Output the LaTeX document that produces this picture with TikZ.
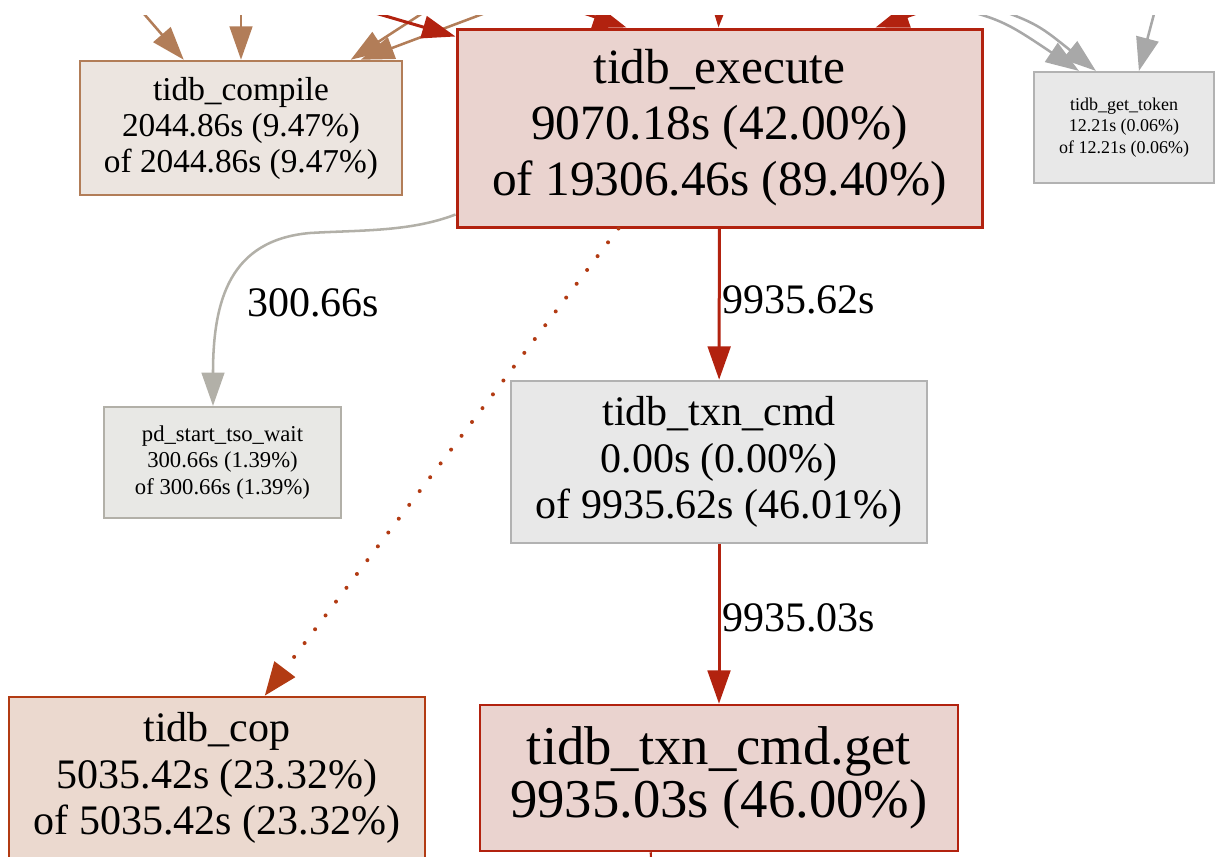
\documentclass[tikz,border=0pt]{standalone}
\usepackage{fontspec}
\setmainfont{Liberation Serif}
\usetikzlibrary{arrows.meta,calc}
\definecolor{redB}{HTML}{B2220F}
\definecolor{execF}{HTML}{EAD3CF}
\definecolor{copB}{HTML}{B23B13}
\definecolor{copF}{HTML}{EBD9CF}
\definecolor{brownB}{HTML}{B27D58}
\definecolor{compF}{HTML}{ECE5E0}
\definecolor{grayB}{HTML}{B2B2B2}
\definecolor{grayF}{HTML}{E8E8E8}
\definecolor{grayA}{HTML}{A8A8A8}
\definecolor{pdB}{HTML}{B2B0A8}
\definecolor{pdF}{HTML}{E8E8E5}
\begin{document}
\begin{tikzpicture}[x=0.75pt,y=-0.75pt,
  box/.style={draw, rectangle, align=center, inner sep=0pt},
  lbl/.style={inner sep=0pt, font=\fontsize{31.5}{35}\selectfont, anchor=west},
  tip/.style={-{Triangle[length=25pt,width=17pt]}},
]
\useasboundingbox (0,0) rectangle (1215,857);
\clip (0,15) rectangle (1215,857);

% nodes
\node[box, draw=brownB, fill=compF, line width=1.9pt, minimum width=241.5pt, minimum height=100.5pt,
  font=\fontsize{25}{27}\selectfont] (compile) at (241,128)
  {tidb\_compile\\2044.86s (9.47\%)\\of 2044.86s (9.47\%)};
\node[box, draw=redB, fill=execF, line width=2.25pt, minimum width=393.75pt, minimum height=148.5pt,
  font=\fontsize{37}{42}\selectfont] (exec) at (719.5,128)
  {tidb\_execute\\9070.18s (42.00\%)\\of 19306.46s (89.40\%)};
\node[box, draw=grayB, fill=grayF, line width=1.6pt, minimum width=135pt, minimum height=83.25pt,
  font=\fontsize{13.5}{16}\selectfont] (token) at (1124,127.5)
  {tidb\_get\_token\\12.21s (0.06\%)\\of 12.21s (0.06\%)};
\node[box, draw=pdB, fill=pdF, line width=1.6pt, minimum width=177.75pt, minimum height=83.25pt,
  font=\fontsize{17}{20}\selectfont] (pd) at (222.5,462.5)
  {pd\_start\_tso\_wait\\300.66s (1.39\%)\\of 300.66s (1.39\%)};
\node[box, draw=grayB, fill=grayF, line width=1.9pt, minimum width=312pt, minimum height=121.5pt,
  font=\fontsize{31.5}{35}\selectfont] (txn) at (719,462)
  {tidb\_txn\_cmd\\0.00s (0.00\%)\\of 9935.62s (46.01\%)};
\node[box, draw=copB, fill=copF, line width=1.9pt, minimum width=312pt, minimum height=121.5pt,
  font=\fontsize{31.5}{35}\selectfont] (cop) at (217,778)
  {tidb\_cop\\5035.42s (23.32\%)\\of 5035.42s (23.32\%)};
\node[box, draw=redB, fill=execF, line width=1.9pt, minimum width=358.5pt, minimum height=109.5pt,
  font=\fontsize{41}{40}\selectfont] (get) at (719,778)
  {tidb\_txn\_cmd.get\\9935.03s (46.00\%)};

% edge labels
\node[lbl] (l1) at (722,300) {9935.62s};
\node[lbl] (l2) at (722,618) {9935.03s};
\node[lbl] (l3) at (247,303) {300.66s};

% off-picture sources
\coordinate (b1) at (125,-8);
\coordinate (b2) at (241,-10);
\coordinate (b3) at (466,-15);
\coordinate (b4) at (520,0);
\coordinate (r1) at (300,-9);
\coordinate (r2) at (500,-15);
\coordinate (r3) at (720,-10);
\coordinate (r4) at (1009,-19);
\coordinate (g1) at (915,-2);
\coordinate (g2) at (965,-2);
\coordinate (g3) at (1159,-5);
\coordinate (gout) at (652,880);

% main edges
\draw[redB, line width=2.25pt, tip] (exec) -- (txn);
\draw[redB, line width=2.25pt, tip] (txn) -- (get);
\draw[redB, line width=1.6pt] ($(get.south west)+(172,0)$) -- (gout);
\draw[pdB, line width=1.9pt, tip] ($(exec.south west)+(0,-14)$)
  .. controls (410,232) and (360,230) .. (310,233)
  .. controls (230,240) and (213,300) .. ($(pd.north)+(-9.5,0)$);
\draw[copB, line width=3pt, line cap=round, dash pattern=on 0pt off 13pt,
  -{Triangle[length=25pt,width=19pt]}]
  ($(exec.south west)+(163,0)$) -- ($(cop.north west)+(257,0)$);

% incoming edges from above
\draw[brownB, line width=1.9pt, tip] (b1) -- ($(compile.north west)+(105,0)$);
\draw[brownB, line width=1.9pt, tip] (b2) -- (compile.north);
\draw[brownB, line width=1.9pt, tip] (b3) -- ($(compile.north west)+(272,0)$);
\draw[brownB, line width=1.9pt, tip] (b4) -- ($(compile.north west)+(282,0)$);
\draw[redB, line width=2.25pt, tip] (r1) -- ($(exec.north west)+(0,9)$);
\draw[redB, line width=2.25pt, tip] (r2) -- ($(exec.north west)+(171,0)$);
\draw[redB, line width=2.25pt, tip] (r3) -- ($(exec.north west)+(263,0)$);
\draw[redB, line width=2.25pt, tip] (r4) -- ($(exec.north west)+(420,0)$);
\draw[grayA, line width=1.9pt, tip] (g1) .. controls (1000,18) .. ($(token.north west)+(46,0)$);
\draw[grayA, line width=1.9pt, tip] (g2) .. controls (1035,22) .. ($(token.north west)+(63,0)$);
\draw[grayA, line width=1.9pt, tip] (g3) -- ($(token.north west)+(106,0)$);
\end{tikzpicture}
\end{document}
